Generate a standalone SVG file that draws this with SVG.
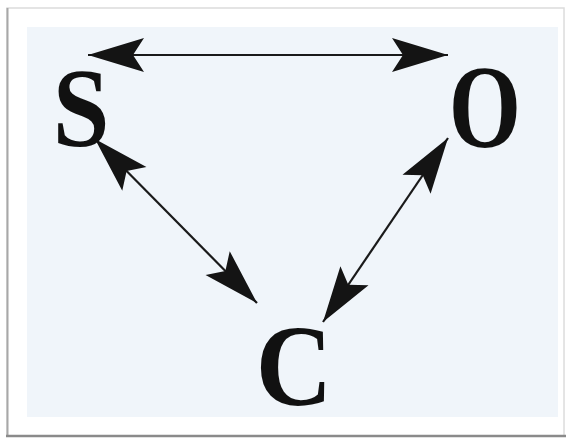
<svg xmlns="http://www.w3.org/2000/svg" width="569" height="440" viewBox="0 0 569 440">
  <style>
    .lbl { font-family: "Liberation Serif", "DejaVu Serif", serif; font-weight: bold; font-size: 100px; fill: #111; text-anchor: middle; }
    .conn { stroke: #1a1a1a; stroke-width: 2.2; fill: none; }
  </style>
  <defs>
    <marker id="head" markerUnits="userSpaceOnUse" markerWidth="64" markerHeight="40" viewBox="-60 -20 64 40" refX="0" refY="0" orient="auto-start-reverse">
      <path d="M0,0 L-56,-17 L-45,0 L-56,17 Z" fill="#141414"/>
    </marker>
  </defs>
  <rect x="0" y="0" width="569" height="440" fill="#ffffff"/>
  <g id="frame">
    <rect x="7" y="8" width="557" height="428" fill="#ffffff" stroke="#dcdcdc" stroke-width="1.5"/>
    <line x1="7.5" y1="8" x2="7.5" y2="436" stroke="#a8a8a8" stroke-width="2"/>
    <line x1="6" y1="436" x2="566" y2="436" stroke="#8a8a8a" stroke-width="2.5"/>
    <rect x="27" y="27" width="531" height="390" fill="#f0f5fa"/>
  </g>
  <g id="connectors">
    <line class="conn" x1="88" y1="55" x2="448" y2="55" marker-start="url(#head)" marker-end="url(#head)"/>
    <line class="conn" x1="95" y1="139" x2="257" y2="303" marker-start="url(#head)" marker-end="url(#head)"/>
    <line class="conn" x1="448" y1="138" x2="323" y2="322" marker-start="url(#head)" marker-end="url(#head)"/>
  </g>
  <g id="node-S"><text class="lbl" transform="translate(81,146) scale(1.02,1.12)">S</text></g>
  <g id="node-O"><text class="lbl" transform="translate(485,147) scale(0.93,1.18)">O</text></g>
  <g id="node-C"><text class="lbl" transform="translate(294,405) scale(1.06,1.16)">C</text></g>
</svg>
